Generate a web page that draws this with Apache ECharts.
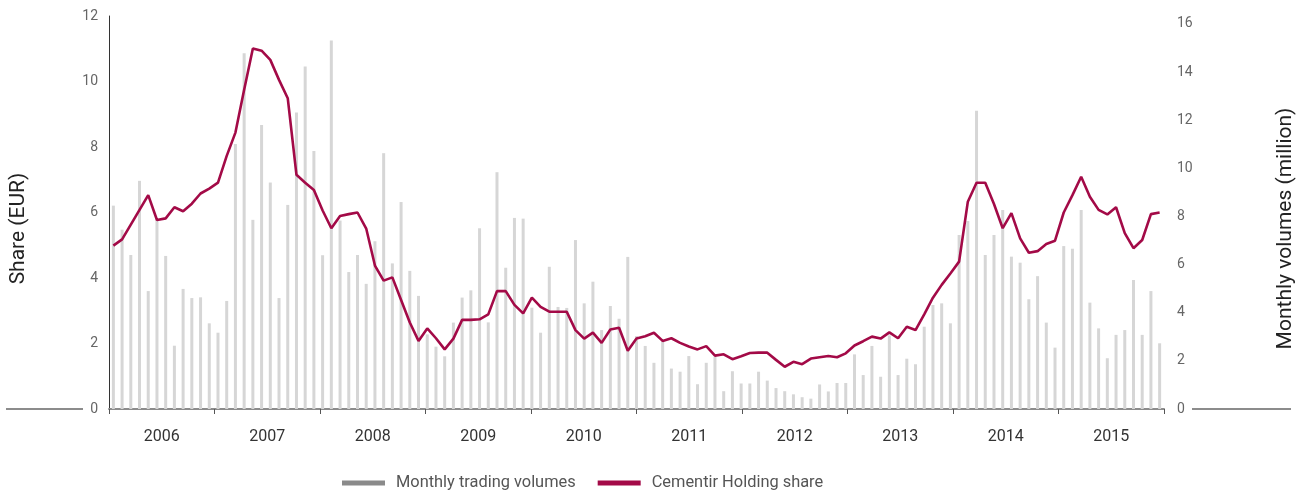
<!DOCTYPE html>
<html>
<head>
<meta charset="utf-8">
<script src="https://cdn.jsdelivr.net/npm/echarts@6/dist/echarts.min.js"></script>
<style>
  html, body { margin: 0; padding: 0; background: #fff; }
  #main { width: 1301px; height: 493px; }
</style>
</head>
<body>
<div id="main"></div>
<script>
let myChart = echarts.init(document.getElementById('main'));

// year labels on the axis
const years = ['2006', '2007', '2008', '2009', '2010', '2011', '2012', '2013', '2014', '2015'];
const monthNames = ['Jan', 'Feb', 'Mar', 'Apr', 'May', 'Jun', 'Jul', 'Aug', 'Sep', 'Oct', 'Nov', 'Dec'];

// one point per month, Jan 2006 .. Jan 2016
const months = [];
years.forEach(function (y) {
  monthNames.forEach(function (m) { months.push(m + ' ' + y); });
});
months.push('Jan 2016');

// monthly trading volumes (million)
const volumes = [
  8.45, 7.45, 6.4, 9.48, 4.9, 7.86, 6.36, 2.63, 4.99, 4.61, 4.64, 3.56,
  3.17, 4.49, 11.01, 14.78, 7.86, 11.8, 9.41, 4.61, 8.48, 12.32, 14.23, 10.72,
  6.39, 15.31, 7.83, 5.69, 6.4, 5.2, 6.97, 10.63, 6.05, 8.6, 5.74, 4.7,
  3.1, 2.59, 2.19, 3.59, 4.63, 4.93, 7.51, 3.6, 9.84, 5.87, 7.94, 7.91,
  4.21, 3.17, 5.91, 4.24, 4.2, 7.02, 4.39, 5.29, 3.28, 4.28, 3.75, 6.32,
  3.03, 2.62, 1.92, 2.87, 1.68, 1.55, 2.2, 1.03, 1.92, 2.17, 0.74, 1.57,
  1.06, 1.06, 1.55, 1.18, 0.87, 0.74, 0.61, 0.49, 0.43, 1.02, 0.73, 1.08,
  1.08, 2.27, 1.41, 2.62, 1.34, 3.06, 1.41, 2.09, 1.86, 3.42, 4.32, 4.39,
  3.56, 7.23, 7.81, 12.39, 6.4, 7.23, 8.27, 6.33, 6.08, 4.56, 5.52, 3.59,
  2.55, 6.77, 6.66, 8.27, 4.42, 3.35, 2.11, 3.08, 3.28, 5.36, 3.08, 4.9,
  2.73
];

// Cementir Holding share price (EUR)
const share = [
  4.99, 5.18, 5.63, 6.08, 6.53, 5.77, 5.82, 6.16, 6.04, 6.27, 6.58, 6.73,
  6.91, 7.73, 8.44, 9.75, 11.01, 10.94, 10.66, 10.05, 9.49, 7.15, 6.91, 6.69,
  6.06, 5.52, 5.89, 5.95, 6.0, 5.51, 4.38, 3.92, 4.02, 3.33, 2.64, 2.08,
  2.46, 2.16, 1.82, 2.15, 2.72, 2.72, 2.74, 2.89, 3.6, 3.6, 3.18, 2.92,
  3.4, 3.12, 2.97, 2.97, 2.97, 2.41, 2.15, 2.33, 2.02, 2.43, 2.48, 1.78,
  2.15, 2.22, 2.33, 2.08, 2.16, 2.02, 1.91, 1.82, 1.92, 1.63, 1.67, 1.52,
  1.61, 1.71, 1.72, 1.72, 1.5, 1.29, 1.44, 1.37, 1.54, 1.58, 1.62, 1.58,
  1.7, 1.94, 2.07, 2.21, 2.15, 2.34, 2.16, 2.51, 2.41, 2.89, 3.4, 3.79,
  4.14, 4.5, 6.33, 6.91, 6.91, 6.26, 5.52, 5.98, 5.21, 4.77, 4.82, 5.04,
  5.14, 6.0, 6.53, 7.09, 6.48, 6.08, 5.94, 6.16, 5.37, 4.91, 5.16, 5.95,
  6.0
];

const font = 'Roboto, "DejaVu Sans", sans-serif';
const crimson = '#a30a47';

let option = {
  animation: false,
  textStyle: { fontFamily: font },
  grid: {
    left: 109,
    right: 137,
    top: 16,
    bottom: 84,
    outerBoundsMode: 'none'
  },
  legend: {
    left: 337,
    top: 470,
    itemWidth: 43,
    itemHeight: 5,
    itemGap: 22,
    textStyle: { fontSize: 16.4, color: '#555', padding: [0, 0, 0, 6] },
    data: [
      { name: 'Monthly trading volumes', icon: 'rect', itemStyle: { color: '#8a8a8a' } },
      { name: 'Cementir Holding share', icon: 'rect', itemStyle: { color: crimson } }
    ]
  },
  xAxis: [
    {
      type: 'category',
      data: months,
      show: false,
      boundaryGap: true
    },
    {
      type: 'category',
      data: years,
      position: 'bottom',
      boundaryGap: true,
      axisLine: { lineStyle: { color: '#8c8c8c', width: 2 } },
      axisTick: { show: true, interval: 0, length: 5, lineStyle: { color: '#555' } },
      axisLabel: { interval: 0, fontSize: 16, color: '#333', margin: 20 }
    }
  ],
  yAxis: [
    {
      type: 'value',
      min: 0,
      max: 12,
      interval: 2,
      name: 'Share (EUR)',
      nameLocation: 'middle',
      nameGap: 80,
      nameTextStyle: { fontSize: 21, color: '#222', padding: [0, 32, 0, 0] },
      axisLine: { show: true, lineStyle: { color: '#333', width: 1 } },
      axisTick: { show: false },
      splitLine: { show: false },
      axisLabel: { fontSize: 14, color: '#666', margin: 11 }
    },
    {
      type: 'value',
      min: 0,
      max: 16.33,
      interval: 2,
      position: 'right',
      name: 'Monthly volumes (million)',
      nameLocation: 'middle',
      nameGap: 111,
      nameRotate: 90,
      nameTextStyle: { fontSize: 21, color: '#222', padding: [0, 32, 0, 0] },
      axisLine: { show: false },
      axisTick: { show: false },
      splitLine: { show: false },
      axisLabel: { fontSize: 14, color: '#666', margin: 13, showMaxLabel: false }
    }
  ],
  graphic: [
    { type: 'line', shape: { x1: 6, y1: 409, x2: 83, y2: 409 }, style: { stroke: '#8c8c8c', lineWidth: 2 } },
    { type: 'line', shape: { x1: 1192, y1: 409, x2: 1291, y2: 409 }, style: { stroke: '#8c8c8c', lineWidth: 2 } }
  ],
  series: [
    {
      name: 'Monthly trading volumes',
      type: 'bar',
      xAxisIndex: 0,
      yAxisIndex: 1,
      barWidth: 3,
      itemStyle: { color: '#d6d6d6' },
      data: volumes
    },
    {
      name: 'Cementir Holding share',
      type: 'line',
      xAxisIndex: 0,
      yAxisIndex: 0,
      symbol: 'none',
      lineStyle: { color: crimson, width: 2.6 },
      itemStyle: { color: crimson },
      data: share,
      z: 3
    }
  ]
};

myChart.setOption(option);
</script>
</body>
</html>
